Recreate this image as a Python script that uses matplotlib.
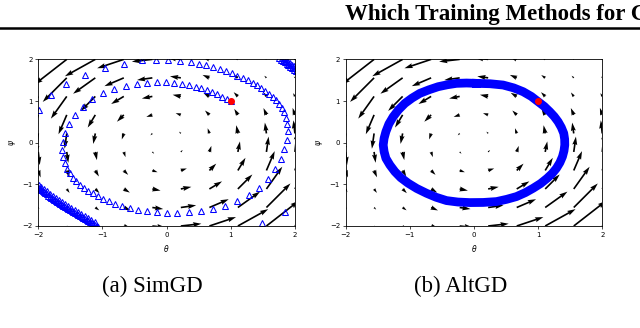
import numpy as np
import matplotlib
matplotlib.use('Agg')
import matplotlib.pyplot as plt
from matplotlib.lines import Line2D

# quiver grid and gradient field
theta_grid = [-2.0, -1.556, -1.111, -0.667, -0.222, 0.222, 0.667, 1.111, 1.556, 2.0]
psi_grid = [-2.0, -1.556, -1.111, -0.667, -0.222, 0.222, 0.667, 1.111, 1.556, 2.0]

field_u = [
    [0.036, 0.085, 0.196, 0.417, 0.781, 1.219, 1.583, 1.804, 1.915, 1.964],
    [0.066, 0.127, 0.235, 0.407, 0.645, 0.911, 1.149, 1.321, 1.429, 1.490],
    [0.109, 0.168, 0.250, 0.359, 0.487, 0.624, 0.752, 0.861, 0.943, 1.002],
    [0.139, 0.175, 0.215, 0.261, 0.309, 0.358, 0.406, 0.452, 0.492, 0.528],
    [0.087, 0.092, 0.097, 0.103, 0.108, 0.114, 0.119, 0.125, 0.130, 0.135],
    [-0.135, -0.130, -0.125, -0.119, -0.114, -0.108, -0.103, -0.097, -0.092, -0.087],
    [-0.528, -0.492, -0.452, -0.406, -0.358, -0.309, -0.261, -0.215, -0.175, -0.139],
    [-1.002, -0.943, -0.861, -0.752, -0.624, -0.487, -0.359, -0.250, -0.168, -0.109],
    [-1.490, -1.429, -1.321, -1.149, -0.911, -0.645, -0.407, -0.235, -0.127, -0.066],
    [-1.964, -1.915, -1.804, -1.583, -1.219, -0.781, -0.417, -0.196, -0.085, -0.036],
]
field_v = [
    [-0.036, -0.066, -0.109, -0.139, -0.087, 0.135, 0.528, 1.002, 1.490, 1.964],
    [-0.085, -0.127, -0.168, -0.175, -0.092, 0.130, 0.492, 0.943, 1.429, 1.915],
    [-0.196, -0.235, -0.250, -0.215, -0.097, 0.125, 0.452, 0.861, 1.321, 1.804],
    [-0.417, -0.407, -0.359, -0.261, -0.103, 0.119, 0.406, 0.752, 1.149, 1.583],
    [-0.781, -0.645, -0.487, -0.309, -0.108, 0.114, 0.358, 0.624, 0.911, 1.219],
    [-1.219, -0.911, -0.624, -0.358, -0.114, 0.108, 0.309, 0.487, 0.645, 0.781],
    [-1.583, -1.149, -0.752, -0.406, -0.119, 0.103, 0.261, 0.359, 0.407, 0.417],
    [-1.804, -1.321, -0.861, -0.452, -0.125, 0.097, 0.215, 0.250, 0.235, 0.196],
    [-1.915, -1.429, -0.943, -0.492, -0.130, 0.092, 0.175, 0.168, 0.127, 0.085],
    [-1.964, -1.490, -1.002, -0.528, -0.135, 0.087, 0.139, 0.109, 0.066, 0.036],
]

# SimGD iterates (visible part), first and second turn
sim_theta = [1.000, 0.934, 0.866, 0.793, 0.715, 0.632, 0.544, 0.451, 0.347, 0.233, 0.113, -0.017,
             -0.157, -0.307, -0.468, -0.640, -0.816, -0.993, -1.159, -1.304, -1.424, -1.517, -1.579,
             -1.616, -1.626, -1.616, -1.590, -1.553, -1.512, -1.465, -1.413, -1.356, -1.294, -1.226,
             -1.154, -1.076, -0.993, -0.904, -0.806, -0.697, -0.577, -0.447, -0.307, -0.157, 0.004,
             0.170, 0.347, 0.534, 0.726, 0.918, 1.105, 1.281, 1.442, 1.583, 1.697, 1.780, 1.837,
             1.873, 1.889, 1.884, 1.863, 1.832, 1.796, 1.754, 1.707, 1.655, 1.598, 1.541, 1.479,
             1.411, 1.339, 1.266, 1.188, 1.105, 1.017, 0.923, 0.825, 0.726, 0.622, 0.508, 0.373,
             0.207, 0.025, -0.167, -0.390, -0.666, -0.967, -1.278, -1.564, -1.797, -1.984, -2.130]
sim_psi = [1.000, 1.048, 1.104, 1.160, 1.216, 1.264, 1.304, 1.344, 1.384, 1.416, 1.440, 1.456,
           1.456, 1.440, 1.408, 1.360, 1.288, 1.184, 1.040, 0.864, 0.664, 0.448, 0.232,
           0.025, -0.167, -0.335, -0.487, -0.623, -0.735, -0.839, -0.927, -1.007, -1.079, -1.151,
           -1.215, -1.279, -1.343, -1.407, -1.463, -1.519, -1.567, -1.607, -1.639, -1.663, -1.679,
           -1.679, -1.671, -1.647, -1.591, -1.511, -1.399, -1.255, -1.079, -0.871, -0.639, -0.391, -0.151,
           0.073, 0.273, 0.449, 0.600, 0.728, 0.840, 0.936, 1.024, 1.104, 1.176, 1.248, 1.312,
           1.376, 1.440, 1.496, 1.552, 1.607, 1.663, 1.711, 1.767, 1.823, 1.863, 1.887, 1.927,
           1.959, 1.983, 1.991, 1.975, 1.879, 1.783, 1.631, 1.399, 1.136, 0.784, 0.424]

# slow corner passes of the later turns (packed iterates)
band_sw_theta = [-2.016, -1.995, -1.974, -1.953, -1.932, -1.911, -1.891, -1.868, -1.844, -1.820,
                 -1.797, -1.774, -1.751, -1.728, -1.704, -1.680, -1.657, -1.634, -1.611, -1.585,
                 -1.559, -1.533, -1.507, -1.481, -1.455, -1.429, -1.403, -1.377, -1.351, -1.325,
                 -1.299, -1.273, -1.247, -1.221, -1.195, -1.169, -1.143, -1.117, -1.091, -1.065,
                 -1.996, -1.954, -1.912, -1.871, -1.824, -1.777, -1.731, -1.684, -1.637, -1.591,
                 -1.539, -1.487, -1.435, -1.383, -1.331, -1.279, -1.227, -1.175, -1.123]
band_sw_psi = [-1.055, -1.083, -1.111, -1.139, -1.167, -1.190, -1.214, -1.242, -1.270, -1.294,
               -1.318, -1.342, -1.366, -1.390, -1.414, -1.438, -1.462, -1.486, -1.510, -1.534,
               -1.558, -1.582, -1.606, -1.630, -1.654, -1.678, -1.702, -1.726, -1.750, -1.774,
               -1.798, -1.822, -1.846, -1.870, -1.894, -1.918, -1.942, -1.966, -1.990, -2.014,
               -1.010, -1.066, -1.122, -1.169, -1.225, -1.273, -1.321, -1.369, -1.417, -1.465,
               -1.513, -1.561, -1.609, -1.657, -1.705, -1.753, -1.801, -1.849, -1.897]
band_se_theta = [1.489, 1.842]
band_se_psi = [-1.934, -1.654]
band_ne_theta = [2.020, 1.990, 1.960, 1.930, 1.900, 1.870, 1.840, 1.810, 1.780, 1.750,
                 2.020, 1.990, 1.960, 1.930, 1.900, 1.870, 1.840, 1.810]
band_ne_psi = [1.719, 1.753, 1.788, 1.822, 1.856, 1.890, 1.925, 1.959, 1.993, 2.028,
               1.798, 1.833, 1.867, 1.901, 1.935, 1.970, 2.004, 2.038]

# AltGD orbit
alt_theta = [0.040, 0.250, 0.455, 0.620, 0.767, 0.895, 1.001, 1.097, 1.182, 1.252, 1.312, 1.362,
             1.400, 1.414, 1.416, 1.404, 1.380, 1.340, 1.286, 1.220, 1.141, 1.040, 0.923, 0.800,
             0.663, 0.510, 0.352, 0.145, -0.064, -0.250, -0.427, -0.590, -0.739, -0.890, -1.024,
             -1.140, -1.232, -1.310, -1.372, -1.400, -1.414, -1.400, -1.372, -1.325, -1.258,
             -1.175, -1.076, -0.965, -0.843, -0.700, -0.557, -0.415, -0.272, -0.115, 0.040]
alt_psi = [1.424, 1.415, 1.384, 1.315, 1.224, 1.110, 0.984, 0.870, 0.744, 0.628, 0.504, 0.368,
           0.225, 0.085, -0.055, -0.195, -0.335, -0.478, -0.615, -0.740, -0.855, -0.980, -1.094,
           -1.200, -1.294, -1.360, -1.414, -1.435, -1.438, -1.425, -1.390, -1.310, -1.214, -1.100,
           -0.974, -0.840, -0.695, -0.535, -0.375, -0.215, -0.055, 0.105, 0.265, 0.450, 0.624,
           0.790, 0.944, 1.070, 1.184, 1.270, 1.344, 1.390, 1.424, 1.432, 1.424]

start = (1.0, 1.0)

fig = plt.figure(figsize=(6.4, 3.28), dpi=100)

X, Y = np.meshgrid(theta_grid, psi_grid)
U = np.array(field_u)
V = np.array(field_v)

ax1 = fig.add_axes([0.0598, 0.311, 0.401, 0.508])
ax2 = fig.add_axes([0.540, 0.311, 0.401, 0.508])

for ax in (ax1, ax2):
    ax.quiver(X, Y, U, V, color='black', width=0.0065)
    ax.set_xlim(-2, 2)
    ax.set_ylim(-2, 2)
    ax.set_xticks([-2, -1, 0, 1, 2])
    ax.set_yticks([-2, -1, 0, 1, 2])
    ax.tick_params(labelsize=5, length=2.5, width=0.5, pad=1.5)
    for s in ax.spines.values():
        s.set_linewidth(0.6)
    ax.set_xlabel(r'$\theta$', fontsize=5.5)
    ax.set_ylabel(r'$\psi$', fontsize=5.5)
    ax.xaxis.set_label_coords(0.5, -0.105)
    ax.yaxis.set_label_coords(-0.08, 0.5)

tri = dict(linestyle='none', marker='^', markersize=3.8, markerfacecolor='none',
           markeredgecolor='blue', markeredgewidth=0.75)
ax1.plot(sim_theta, sim_psi, **tri)
ax1.plot(band_sw_theta, band_sw_psi, **tri)
ax1.plot(band_se_theta, band_se_psi, **tri)
ax1.plot(band_ne_theta, band_ne_psi, **tri)
ax1.plot(start[0], start[1], 'o', color='red', markersize=4)

ax2.plot(alt_theta, alt_psi, color='blue', linewidth=6.3, solid_joinstyle='round')
ax2.plot(start[0], start[1], 'o', color='red', markersize=4)

fig.text(345 / 640, 0.939, 'Which Training Methods for GANs do actually Converge?',
         fontsize=16.5, fontweight='bold', family='Liberation Serif', va='baseline')
fig.add_artist(Line2D([0, 1], [0.914, 0.914], color='black', linewidth=1.8))

fig.text(0.238, 0.128, '(a) SimGD', fontsize=16.5, family='Liberation Serif', ha='center', va='center')
fig.text(0.719, 0.128, '(b) AltGD', fontsize=16.5, family='Liberation Serif', ha='center', va='center')

fig.savefig('out.png', dpi=100)
